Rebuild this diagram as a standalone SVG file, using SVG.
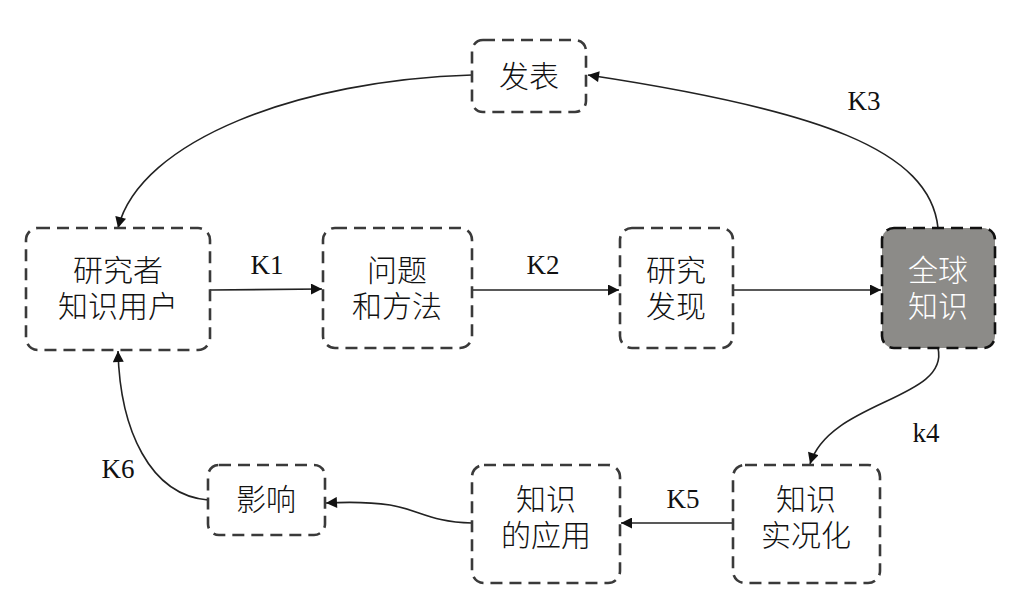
<svg xmlns="http://www.w3.org/2000/svg" width="1011" height="615" viewBox="0 0 1011 615">
<style>
.box{fill:#fff;stroke:#3a3a3a;stroke-width:2.6;stroke-dasharray:12 7}
.dark{fill:#8c8b88;stroke:#111;stroke-width:2.6;stroke-dasharray:12 7}
.t{font-family:"Liberation Serif","Noto Sans CJK SC",serif;font-size:30px;font-weight:300;fill:#111;text-anchor:middle}
.w{fill:#fff}
.k{font-family:"Liberation Serif",serif;font-size:27px;fill:#111;text-anchor:middle}
.c{fill:none;stroke:#222;stroke-width:1.6;marker-end:url(#a)}
</style>
<defs>
<marker id="a" viewBox="0 0 10 10" refX="10" refY="5" markerWidth="12" markerHeight="11" markerUnits="userSpaceOnUse" orient="auto"><path d="M0,0 L10,5 L0,10 z" fill="#111"/></marker>
</defs>
<rect width="1011" height="615" fill="#fff"/>
<g id="connectors">
<path class="c" d="M472,75 C300,80 140,140 118,228"/>
<path class="c" d="M938,228 C930,150 820,110 588,75"/>
<path class="c" d="M210,290 L322,289"/>
<path class="c" d="M472,290 L619,290"/>
<path class="c" d="M733,290 L881,290"/>
<path class="c" d="M938,348 C950,400 830,400 810,464"/>
<path class="c" d="M733,523 L621,523"/>
<path class="c" d="M472,523 C430,522 420,510 390,505 C370,502 345,502 326,503"/>
<path class="c" d="M208,500 C150,495 120,430 118,351"/>
</g>
<g id="n1"><rect class="box" x="472" y="40" width="114" height="72" rx="11"/><text class="t" x="529" y="87">发表</text></g>
<g id="n2"><rect class="box" x="26" y="228" width="184" height="122" rx="12"/><text class="t" x="118" y="281">研究者</text><text class="t" x="118" y="317">知识用户</text></g>
<g id="n3"><rect class="box" x="323" y="228" width="149" height="120" rx="12"/><text class="t" x="397" y="281">问题</text><text class="t" x="397" y="317">和方法</text></g>
<g id="n4"><rect class="box" x="620" y="228" width="113" height="120" rx="12"/><text class="t" x="676" y="281">研究</text><text class="t" x="676" y="317">发现</text></g>
<g id="n5"><rect class="dark" x="882" y="228" width="113" height="120" rx="12"/><text class="t w" x="938" y="281">全球</text><text class="t w" x="938" y="317">知识</text></g>
<g id="n6"><rect class="box" x="733" y="465" width="147" height="118" rx="12"/><text class="t" x="806" y="510">知识</text><text class="t" x="806" y="546">实况化</text></g>
<g id="n7"><rect class="box" x="472" y="465" width="148" height="118" rx="12"/><text class="t" x="546" y="510">知识</text><text class="t" x="546" y="546">的应用</text></g>
<g id="n8"><rect class="box" x="208" y="465" width="117" height="70" rx="11"/><text class="t" x="266" y="510">影响</text></g>
<g id="labels">
<text class="k" x="267" y="274">K1</text>
<text class="k" x="543" y="274">K2</text>
<text class="k" x="864" y="110">K3</text>
<text class="k" x="926" y="442">k4</text>
<text class="k" x="683" y="508">K5</text>
<text class="k" x="118" y="478">K6</text>
</g>
</svg>
